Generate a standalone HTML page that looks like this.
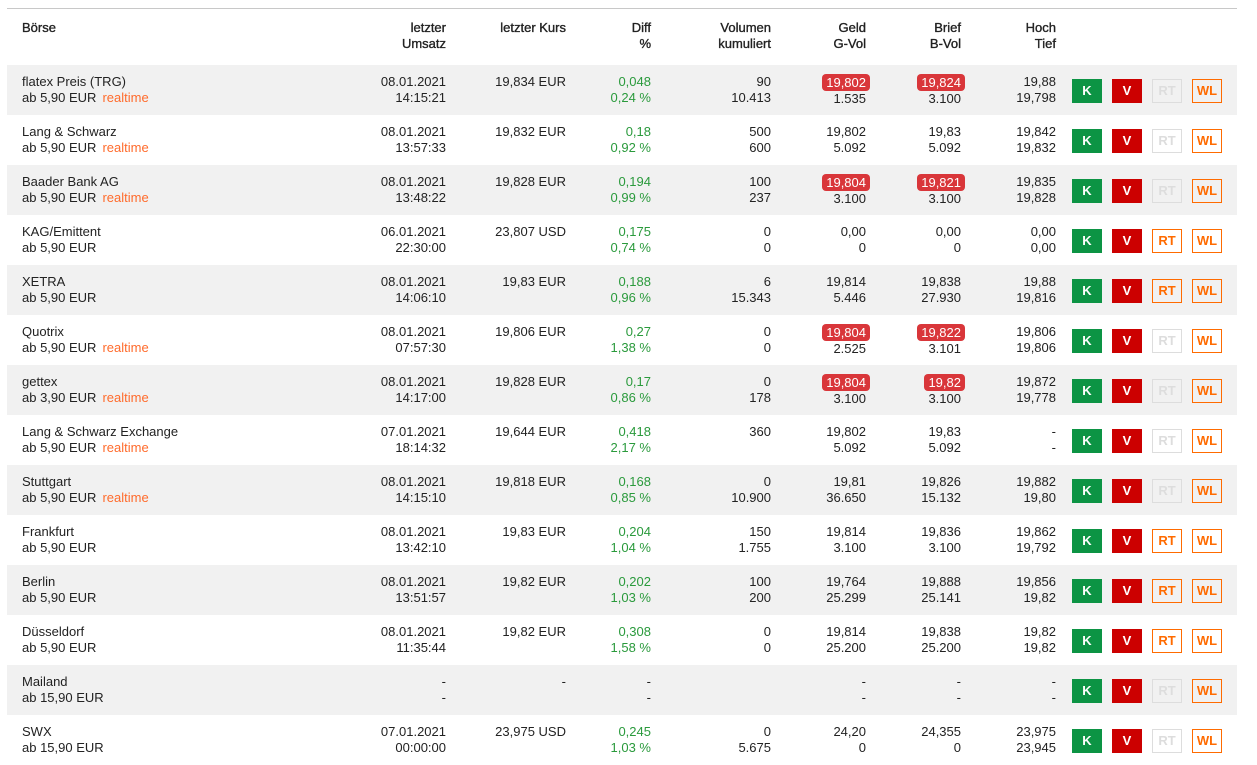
<!DOCTYPE html>
<html><head><meta charset="utf-8"><style>
body{margin:0;width:1257px;height:762px;overflow:hidden;background:#fff;font-family:"Liberation Sans",sans-serif;font-size:13px;color:#222;position:relative}
.top{position:absolute;left:7px;top:8px;width:1230px;height:1px;background:#c8c8c8}
.r{position:absolute;left:7px;width:1230px;height:50px}
.g{background:#f1f1f1}
.c{position:absolute;top:9px;line-height:16px;text-align:right;white-space:nowrap}
.h .c{top:20px;-webkit-text-stroke:0.35px #222}
.n{left:15px;text-align:left}
.c1{right:791px}.c2{right:671px}.c3{right:586px}.c4{right:466px}.c5{right:371px}.c6{right:276px}.c7{right:181px}
.gr{color:#2a9a3c}
.rt{color:#ff6b2c;margin-left:6px}
.b{display:inline-block;background:#d9363a;color:#fff;border-radius:4px;padding:0 4px;margin-right:-4px;line-height:17px}
.btn{position:absolute;top:14px;width:30px;height:24px;box-sizing:border-box;font-weight:bold;font-size:13px;line-height:24px;text-align:center}
.k{left:1065px;background:#0c9444;color:#fff}
.v{left:1105px;background:#cc0000;color:#fff}
.rtb{left:1145px;border:1px solid #ff6b00;color:#ff6b00;line-height:22px}
.rtd{left:1145px;border:1px solid #ddd;color:#ddd;line-height:22px}
.wl{left:1185px;border:1px solid #ff6b00;color:#ff6b00;line-height:22px}
</style></head><body>
<div class="top"></div>
<div class="r h" style="top:0px;height:65px">
<div class="c n">Börse</div><div class="c c1">letzter<br>Umsatz</div><div class="c c2">letzter Kurs</div><div class="c c3">Diff<br>%</div><div class="c c4">Volumen<br>kumuliert</div><div class="c c5">Geld<br>G-Vol</div><div class="c c6">Brief<br>B-Vol</div><div class="c c7">Hoch<br>Tief</div>
</div>

<div class="r g" style="top:65px"><div class="c n">flatex Preis (TRG)<br>ab 5,90 EUR<span class="rt">realtime</span></div><div class="c c1">08.01.2021<br>14:15:21</div><div class="c c2">19,834 EUR</div><div class="c c3 gr">0,048<br>0,24 %</div><div class="c c4">90<br>10.413</div><div class="c c5"><span class="b">19,802</span><br>1.535</div><div class="c c6"><span class="b">19,824</span><br>3.100</div><div class="c c7">19,88<br>19,798</div><div class="btn k">K</div><div class="btn v">V</div><div class="btn rtd">RT</div><div class="btn wl">WL</div></div>

<div class="r" style="top:115px"><div class="c n">Lang &amp; Schwarz<br>ab 5,90 EUR<span class="rt">realtime</span></div><div class="c c1">08.01.2021<br>13:57:33</div><div class="c c2">19,832 EUR</div><div class="c c3 gr">0,18<br>0,92 %</div><div class="c c4">500<br>600</div><div class="c c5">19,802<br>5.092</div><div class="c c6">19,83<br>5.092</div><div class="c c7">19,842<br>19,832</div><div class="btn k">K</div><div class="btn v">V</div><div class="btn rtd">RT</div><div class="btn wl">WL</div></div>

<div class="r g" style="top:165px"><div class="c n">Baader Bank AG<br>ab 5,90 EUR<span class="rt">realtime</span></div><div class="c c1">08.01.2021<br>13:48:22</div><div class="c c2">19,828 EUR</div><div class="c c3 gr">0,194<br>0,99 %</div><div class="c c4">100<br>237</div><div class="c c5"><span class="b">19,804</span><br>3.100</div><div class="c c6"><span class="b">19,821</span><br>3.100</div><div class="c c7">19,835<br>19,828</div><div class="btn k">K</div><div class="btn v">V</div><div class="btn rtd">RT</div><div class="btn wl">WL</div></div>

<div class="r" style="top:215px"><div class="c n">KAG/Emittent<br>ab 5,90 EUR</div><div class="c c1">06.01.2021<br>22:30:00</div><div class="c c2">23,807 USD</div><div class="c c3 gr">0,175<br>0,74 %</div><div class="c c4">0<br>0</div><div class="c c5">0,00<br>0</div><div class="c c6">0,00<br>0</div><div class="c c7">0,00<br>0,00</div><div class="btn k">K</div><div class="btn v">V</div><div class="btn rtb">RT</div><div class="btn wl">WL</div></div>

<div class="r g" style="top:265px"><div class="c n">XETRA<br>ab 5,90 EUR</div><div class="c c1">08.01.2021<br>14:06:10</div><div class="c c2">19,83 EUR</div><div class="c c3 gr">0,188<br>0,96 %</div><div class="c c4">6<br>15.343</div><div class="c c5">19,814<br>5.446</div><div class="c c6">19,838<br>27.930</div><div class="c c7">19,88<br>19,816</div><div class="btn k">K</div><div class="btn v">V</div><div class="btn rtb">RT</div><div class="btn wl">WL</div></div>

<div class="r" style="top:315px"><div class="c n">Quotrix<br>ab 5,90 EUR<span class="rt">realtime</span></div><div class="c c1">08.01.2021<br>07:57:30</div><div class="c c2">19,806 EUR</div><div class="c c3 gr">0,27<br>1,38 %</div><div class="c c4">0<br>0</div><div class="c c5"><span class="b">19,804</span><br>2.525</div><div class="c c6"><span class="b">19,822</span><br>3.101</div><div class="c c7">19,806<br>19,806</div><div class="btn k">K</div><div class="btn v">V</div><div class="btn rtd">RT</div><div class="btn wl">WL</div></div>

<div class="r g" style="top:365px"><div class="c n">gettex<br>ab 3,90 EUR<span class="rt">realtime</span></div><div class="c c1">08.01.2021<br>14:17:00</div><div class="c c2">19,828 EUR</div><div class="c c3 gr">0,17<br>0,86 %</div><div class="c c4">0<br>178</div><div class="c c5"><span class="b">19,804</span><br>3.100</div><div class="c c6"><span class="b">19,82</span><br>3.100</div><div class="c c7">19,872<br>19,778</div><div class="btn k">K</div><div class="btn v">V</div><div class="btn rtd">RT</div><div class="btn wl">WL</div></div>

<div class="r" style="top:415px"><div class="c n">Lang &amp; Schwarz Exchange<br>ab 5,90 EUR<span class="rt">realtime</span></div><div class="c c1">07.01.2021<br>18:14:32</div><div class="c c2">19,644 EUR</div><div class="c c3 gr">0,418<br>2,17 %</div><div class="c c4">360<br>&nbsp;</div><div class="c c5">19,802<br>5.092</div><div class="c c6">19,83<br>5.092</div><div class="c c7">-<br>-</div><div class="btn k">K</div><div class="btn v">V</div><div class="btn rtd">RT</div><div class="btn wl">WL</div></div>

<div class="r g" style="top:465px"><div class="c n">Stuttgart<br>ab 5,90 EUR<span class="rt">realtime</span></div><div class="c c1">08.01.2021<br>14:15:10</div><div class="c c2">19,818 EUR</div><div class="c c3 gr">0,168<br>0,85 %</div><div class="c c4">0<br>10.900</div><div class="c c5">19,81<br>36.650</div><div class="c c6">19,826<br>15.132</div><div class="c c7">19,882<br>19,80</div><div class="btn k">K</div><div class="btn v">V</div><div class="btn rtd">RT</div><div class="btn wl">WL</div></div>

<div class="r" style="top:515px"><div class="c n">Frankfurt<br>ab 5,90 EUR</div><div class="c c1">08.01.2021<br>13:42:10</div><div class="c c2">19,83 EUR</div><div class="c c3 gr">0,204<br>1,04 %</div><div class="c c4">150<br>1.755</div><div class="c c5">19,814<br>3.100</div><div class="c c6">19,836<br>3.100</div><div class="c c7">19,862<br>19,792</div><div class="btn k">K</div><div class="btn v">V</div><div class="btn rtb">RT</div><div class="btn wl">WL</div></div>

<div class="r g" style="top:565px"><div class="c n">Berlin<br>ab 5,90 EUR</div><div class="c c1">08.01.2021<br>13:51:57</div><div class="c c2">19,82 EUR</div><div class="c c3 gr">0,202<br>1,03 %</div><div class="c c4">100<br>200</div><div class="c c5">19,764<br>25.299</div><div class="c c6">19,888<br>25.141</div><div class="c c7">19,856<br>19,82</div><div class="btn k">K</div><div class="btn v">V</div><div class="btn rtb">RT</div><div class="btn wl">WL</div></div>

<div class="r" style="top:615px"><div class="c n">Düsseldorf<br>ab 5,90 EUR</div><div class="c c1">08.01.2021<br>11:35:44</div><div class="c c2">19,82 EUR</div><div class="c c3 gr">0,308<br>1,58 %</div><div class="c c4">0<br>0</div><div class="c c5">19,814<br>25.200</div><div class="c c6">19,838<br>25.200</div><div class="c c7">19,82<br>19,82</div><div class="btn k">K</div><div class="btn v">V</div><div class="btn rtb">RT</div><div class="btn wl">WL</div></div>

<div class="r g" style="top:665px"><div class="c n">Mailand<br>ab 15,90 EUR</div><div class="c c1">-<br>-</div><div class="c c2">-</div><div class="c c3">-<br>-</div><div class="c c5">-<br>-</div><div class="c c6">-<br>-</div><div class="c c7">-<br>-</div><div class="btn k">K</div><div class="btn v">V</div><div class="btn rtd">RT</div><div class="btn wl">WL</div></div>

<div class="r" style="top:715px"><div class="c n">SWX<br>ab 15,90 EUR</div><div class="c c1">07.01.2021<br>00:00:00</div><div class="c c2">23,975 USD</div><div class="c c3 gr">0,245<br>1,03 %</div><div class="c c4">0<br>5.675</div><div class="c c5">24,20<br>0</div><div class="c c6">24,355<br>0</div><div class="c c7">23,975<br>23,945</div><div class="btn k">K</div><div class="btn v">V</div><div class="btn rtd">RT</div><div class="btn wl">WL</div></div>
</body></html>
